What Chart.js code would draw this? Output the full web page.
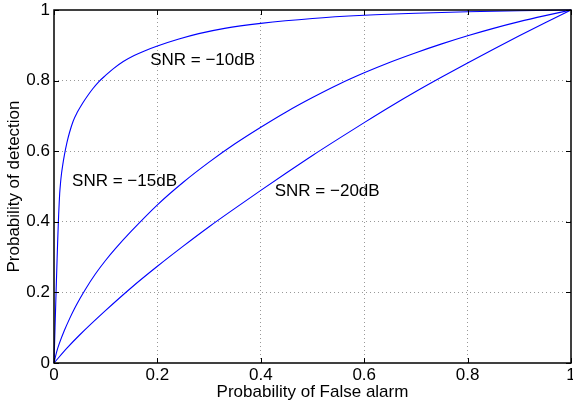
<!DOCTYPE html>
<html>
<head>
<meta charset="utf-8">
<script src="https://cdn.jsdelivr.net/npm/chart.js@4.4.1/dist/chart.umd.min.js"></script>
<style>
  html, body { margin: 0; padding: 0; background: #fff; }
  #wrap { width: 573px; height: 410px; }
</style>
</head>
<body>
<div id="wrap"><canvas id="c" width="573" height="410"></canvas></div>
<script>
// ---- data ----
const pfa10 = [0, 0.001, 0.002, 0.003, 0.004, 0.005, 0.006, 0.007, 0.008, 0.009, 0.01, 0.011, 0.0125, 0.0145, 0.017, 0.02, 0.025, 0.03, 0.037, 0.045, 0.055, 0.065, 0.075, 0.086, 0.1, 0.115, 0.134, 0.155, 0.175, 0.2, 0.24, 0.28, 0.33, 0.4, 0.5, 0.6, 0.7, 0.8, 0.9, 1];
const pd10  = [0, 0.05, 0.1, 0.15, 0.2, 0.248, 0.295, 0.34, 0.382, 0.42, 0.452, 0.48, 0.508, 0.536, 0.562, 0.588, 0.624, 0.653, 0.685, 0.71, 0.735, 0.757, 0.777, 0.796, 0.815, 0.834, 0.854, 0.871, 0.884, 0.898, 0.917, 0.933, 0.948, 0.962, 0.976, 0.985, 0.991, 0.995, 0.998, 1];

const pfa15 = [0, 0.005, 0.01, 0.02, 0.03, 0.04, 0.05, 0.06, 0.08, 0.1, 0.12, 0.15, 0.2, 0.25, 0.3, 0.35, 0.4, 0.45, 0.5, 0.55, 0.6, 0.65, 0.7, 0.75, 0.8, 0.85, 0.9, 0.95, 1];
const pd15  = [0, 0.031, 0.054, 0.092, 0.125, 0.155, 0.182, 0.207, 0.252, 0.291, 0.326, 0.374, 0.448, 0.512, 0.569, 0.621, 0.668, 0.712, 0.752, 0.789, 0.822, 0.852, 0.879, 0.904, 0.927, 0.948, 0.967, 0.984, 1];

const pfa20 = [0, 0.025, 0.05, 0.1, 0.15, 0.2, 0.25, 0.3, 0.35, 0.4, 0.45, 0.5, 0.55, 0.6, 0.65, 0.7, 0.75, 0.8, 0.85, 0.9, 0.95, 1];
const pd20  = [0, 0.042, 0.08, 0.149, 0.214, 0.274, 0.331, 0.386, 0.438, 0.489, 0.539, 0.588, 0.635, 0.681, 0.726, 0.769, 0.81, 0.85, 0.889, 0.927, 0.964, 1];

const seriesNames = ['SNR = \u221210dB', 'SNR = \u221215dB', 'SNR = \u221220dB'];
const xTickLabels = ['0', '0.2', '0.4', '0.6', '0.8', '1'];
const yTickLabels = ['0', '0.2', '0.4', '0.6', '0.8', '1'];
const xTitle = 'Probability of False alarm';
const yTitle = 'Probability of detection';

// annotation anchors (data coordinates, left / middle aligned like MATLAB text)
const labelX = [0.186, 0.035, 0.427];
const labelY = [0.858, 0.516, 0.487];

const FONT = '"Liberation Sans", Arial, Helvetica, sans-serif';

function pts(xs, ys) { return xs.map((x, i) => ({ x: x, y: ys[i] })); }

const boxPlugin = {
  id: 'matlabBox',
  afterDraw(chart) {
    const { ctx, chartArea: a, scales } = chart;
    ctx.save();
    ctx.strokeStyle = '#000';
    ctx.lineWidth = 1;
    const tl = 5;
    ctx.beginPath();
    scales.x.ticks.forEach(t => {
      const px = Math.round(scales.x.getPixelForValue(t.value)) + 0.5;
      ctx.moveTo(px, a.bottom); ctx.lineTo(px, a.bottom - tl);
      ctx.moveTo(px, a.top); ctx.lineTo(px, a.top + tl);
    });
    scales.y.ticks.forEach(t => {
      const py = Math.round(scales.y.getPixelForValue(t.value)) + 0.5;
      ctx.moveTo(a.left, py); ctx.lineTo(a.left + tl, py);
      ctx.moveTo(a.right, py); ctx.lineTo(a.right - tl, py);
    });
    ctx.stroke();
    ctx.lineWidth = 1.5;
    ctx.strokeRect(a.left, a.top, a.right - a.left, a.bottom - a.top);
    ctx.restore();
  }
};

const textPlugin = {
  id: 'snrText',
  afterDatasetsDraw(chart) {
    const { ctx, scales } = chart;
    ctx.save();
    ctx.fillStyle = '#000';
    ctx.font = '17px ' + FONT;
    ctx.textAlign = 'left';
    ctx.textBaseline = 'middle';
    seriesNames.forEach((s, i) => {
      ctx.fillText(s, scales.x.getPixelForValue(labelX[i]), scales.y.getPixelForValue(labelY[i]));
    });
    ctx.restore();
  }
};

const lineStyle = { borderColor: '#0000ff', borderWidth: 1.1, pointRadius: 0, showLine: true, fill: false, cubicInterpolationMode: 'monotone', clip: false };

new Chart(document.getElementById('c'), {
  type: 'scatter',
  data: {
    datasets: [
      Object.assign({ label: seriesNames[0], data: pts(pfa10, pd10) }, lineStyle),
      Object.assign({ label: seriesNames[1], data: pts(pfa15, pd15) }, lineStyle),
      Object.assign({ label: seriesNames[2], data: pts(pfa20, pd20) }, lineStyle)
    ]
  },
  options: {
    responsive: false,
    animation: false,
    devicePixelRatio: 1,
    layout: { padding: { top: 10, right: 2, left: 0, bottom: 0 } },
    plugins: { legend: { display: false }, tooltip: { enabled: false } },
    scales: {
      x: {
        type: 'linear', min: 0, max: 1,
        afterFit(s) { s.height = 47; s.paddingLeft = 0; s.paddingRight = 0; },
        ticks: {
          stepSize: 0.2, padding: 2, color: '#000', maxRotation: 0, autoSkip: false,
          font: { family: FONT, size: 17 },
          callback: (v) => xTickLabels[Math.round(v * 5)]
        },
        grid: {
          drawTicks: false, lineWidth: 1,
          color: (c) => (c.tick && (c.tick.value === 0 || c.tick.value === 1)) ? 'rgba(0,0,0,0)' : '#999999'
        },
        border: { display: false, dash: [1, 3] },
        title: { display: true, text: xTitle, color: '#000', font: { family: FONT, size: 17 }, padding: { top: 0, bottom: 7 } }
      },
      y: {
        type: 'linear', min: 0, max: 1,
        afterFit(s) { s.width = 54; s.paddingTop = 0; s.paddingBottom = 0; },
        ticks: {
          stepSize: 0.2, padding: 4, color: '#000', autoSkip: false,
          font: { family: FONT, size: 17 },
          callback: (v) => yTickLabels[Math.round(v * 5)]
        },
        grid: {
          drawTicks: false, lineWidth: 1,
          color: (c) => (c.tick && (c.tick.value === 0 || c.tick.value === 1)) ? 'rgba(0,0,0,0)' : '#999999'
        },
        border: { display: false, dash: [1, 3] },
        title: { display: true, text: yTitle, color: '#000', font: { family: FONT, size: 17 }, padding: { top: 4, bottom: 0 } }
      }
    }
  },
  plugins: [boxPlugin, textPlugin]
});
</script>
</body>
</html>
